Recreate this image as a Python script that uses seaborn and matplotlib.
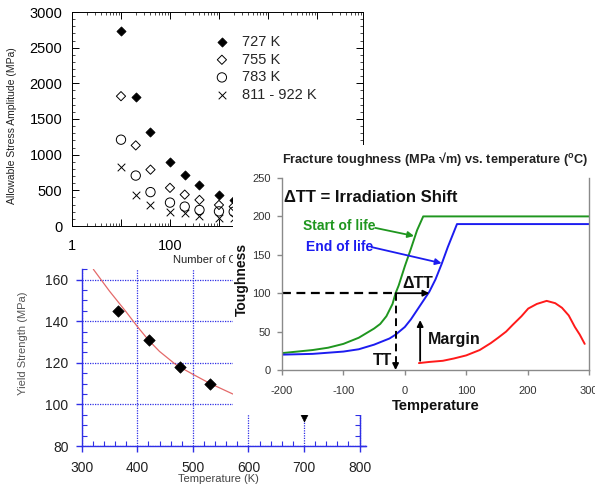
import numpy as np
import matplotlib
matplotlib.use("Agg")
import matplotlib.pyplot as plt
import seaborn as sns
from matplotlib.patches import Rectangle
from matplotlib.ticker import MultipleLocator, LogLocator, NullFormatter

sns.set_theme(style="white")
plt.rcParams["font.family"] = ["Liberation Sans", "DejaVu Sans"]
plt.rcParams["mathtext.fontset"] = "custom"
plt.rcParams["mathtext.rm"] = "Liberation Sans"
plt.rcParams["mathtext.bf"] = "Liberation Sans:bold"

# ---------------- data: chart 1 (allowable stress amplitude) ----------------
cycles = [10, 20, 40, 100, 200, 400, 1000, 2000]
amp_727 = [2740, 1810, 1320, 896, 717, 577, 440, 366]
amp_755 = [1820, 1130, 790, 535, 440, 366, 295, 272]
amp_783 = [1210, 707, 475, 328, 272, 225, 205, 200]
amp_811 = [834, 436, 295, 201, 178, 141, 110, 110]
series_labels = ["727 K", "755 K", "783 K", "811 - 922 K"]
amp_ticks = [0, 500, 1000, 1500, 2000, 2500, 3000]
cyc_ticks = [1, 10, 100, 1000, 10000, 100000]
cyc_tick_labels = ["1", "", "100", "", "10000", ""]

# ---------------- data: chart 2 (fracture toughness) ----------------
start_T = [-200, -175, -150, -125, -100, -75, -50, -40, -30, -20, -15, -10, 0, 10, 20, 30, 300]
start_K = [22, 24, 26, 29, 34, 42, 54, 60, 70, 86, 100, 110, 135, 158, 182, 200, 200]
end_T = [-200, -150, -100, -75, -50, -25, -15, 0, 10, 20, 30, 40, 50, 60, 70, 80, 85, 300]
end_K = [20, 21, 24, 27, 33, 41, 46, 56, 66, 78, 90, 102, 118, 138, 160, 180, 190, 190]
margin_T = [23, 40, 62, 80, 100, 122, 140, 152, 165, 176, 190, 201, 215, 231, 245, 256, 267, 277, 285, 293]
margin_K = [9, 10.5, 12, 15, 19, 26, 35, 42, 50, 59, 70, 80, 86, 90, 87, 81, 71, 56, 46, 34]
ref_toughness = 100
tt_T = -15
shifted_T = 40
margin_arrow_T = 25
margin_arrow_K = [12, 65]
tough_xticks = [-200, -100, 0, 100, 200, 300]
tough_yticks = [0, 50, 100, 150, 200, 250]

# ---------------- data: chart 3 (yield strength) ----------------
ys_T = [365, 421, 476, 531]
ys_MPa = [145, 131, 118, 110]
fit_T = [321, 350, 380, 400, 420, 440, 470, 500, 530, 572]
fit_MPa = [165, 154.5, 144.5, 137.5, 131, 125.5, 119, 114.5, 110.2, 105]
extra_T = [700]
extra_MPa = [94]
ys_xticks = [300, 400, 500, 600, 700, 800]
ys_yticks = [80, 100, 120, 140, 160]

W, H = 595, 486
fig = plt.figure(figsize=(5.95, 4.86), dpi=100)
fig.patch.set_facecolor("white")


def box(l, t, r, b):
    return [l / W, 1 - b / H, (r - l) / W, (b - t) / H]


# ======================= chart 1 =======================
ax1 = fig.add_axes(box(72, 12, 363, 226), zorder=1)
ax1.set_facecolor("none")
sns.scatterplot(x=cycles, y=amp_727, marker="D", s=22, color="black",
                edgecolor="black", linewidth=0.5, ax=ax1, label=series_labels[0])
sns.scatterplot(x=cycles, y=amp_755, marker="D", s=22, facecolor="none",
                edgecolor="black", linewidth=0.7, ax=ax1, label=series_labels[1])
sns.scatterplot(x=cycles, y=amp_783, marker="o", s=45, facecolor="none",
                edgecolor="black", linewidth=0.7, ax=ax1, label=series_labels[2])
sns.scatterplot(x=cycles, y=amp_811, marker="x", s=30, color="black",
                linewidth=0.7, ax=ax1, label=series_labels[3])
ax1.set_xscale("log")
ax1.set_xlim(1, 10 ** 5.94)
ax1.set_ylim(0, 3000)
ax1.set_yticks(amp_ticks)
ax1.set_yticklabels([str(t) for t in amp_ticks])
ax1.yaxis.set_minor_locator(MultipleLocator(100))
ax1.set_xticks(cyc_ticks)
ax1.set_xticklabels(cyc_tick_labels)
ax1.xaxis.set_minor_locator(LogLocator(base=10, subs=np.arange(2, 10) * 1.0, numticks=30))
ax1.xaxis.set_minor_formatter(NullFormatter())
ax1.tick_params(which="both", direction="in", top=True, right=True, bottom=True,
                left=True, colors="black", labelsize=10.5)
ax1.tick_params(which="major", length=5, width=0.7)
ax1.tick_params(which="minor", length=2.5, width=0.5)
ax1.tick_params(axis="x", pad=9)
ax1.tick_params(axis="y", pad=7)
for s in ax1.spines.values():
    s.set_visible(True)
    s.set_color("black")
    s.set_linewidth(0.7)
ax1.set_ylabel("Allowable Stress Amplitude (MPa)", fontsize=7.5, color="#222222")
ax1.yaxis.set_label_coords(-0.19, 0.47)
ax1.set_xlabel("Number of Cycles", fontsize=8, color="#222222")
ax1.xaxis.set_label_coords(0.5, -0.135)
leg = ax1.legend(loc="upper left", bbox_to_anchor=(0.47, 0.92), frameon=False,
                 fontsize=10.5, handletextpad=0.9, labelspacing=0.25,
                 handlelength=1.0, borderaxespad=0)
ax1.grid(False)

# ======================= chart 3 =======================
ax3 = fig.add_axes(box(81.7, 269.3, 365.7, 446), zorder=2)
ax3.set_facecolor("none")
blue = "#2f2fe6"
sns.lineplot(x=fit_T, y=fit_MPa, color="#e46a6a", lw=0.9, ax=ax3, estimator=None)
sns.scatterplot(x=ys_T, y=ys_MPa, marker="D", s=34, color="black",
                edgecolor="black", ax=ax3, zorder=5)
sns.scatterplot(x=extra_T, y=extra_MPa, marker="v", s=40, color="black",
                edgecolor="black", ax=ax3, zorder=5)
ax3.set_xlim(300, 811)
ax3.set_ylim(80, 165)
ax3.set_xticks(ys_xticks)
ax3.set_yticks(ys_yticks)
ax3.set_xticklabels([str(t) for t in ys_xticks])
ax3.set_yticklabels([str(t) for t in ys_yticks])
ax3.xaxis.set_minor_locator(MultipleLocator(20))
ax3.yaxis.set_minor_locator(MultipleLocator(5))
ax3.grid(True, which="major", color=blue, linestyle=(0, (1, 1)), linewidth=0.9)
ax3.spines["top"].set_visible(False)
ax3.spines["right"].set_visible(True)
ax3.spines["right"].set_position(("data", 800))
for k in ["left", "bottom", "right"]:
    ax3.spines[k].set_color(blue)
    ax3.spines[k].set_linewidth(1.0)
ax3.tick_params(which="both", colors=blue, labelcolor="#222222", labelsize=10,
                left=True, bottom=True, right=True, top=False, labelright=False)
ax3.tick_params(which="major", direction="out", length=4, width=1.0)
ax3.tick_params(which="minor", direction="in", length=3.5, width=0.8)
ax3.tick_params(axis="x", pad=6.5)
ax3.tick_params(axis="y", pad=5.5)
ax3.set_ylabel("Yield Strength (MPa)", fontsize=8, color="#555555")
ax3.yaxis.set_label_coords(-0.19, 0.58)
ax3.set_xlabel("Temperature (K)", fontsize=8, color="#444444")
ax3.xaxis.set_label_coords(0.483, -0.158)

# ======================= white backdrop of chart 2 =======================
fig.add_artist(Rectangle((233 / W, 1 - 415 / H), (595 - 233) / W, (415 - 145) / H,
                         transform=fig.transFigure, facecolor="white",
                         edgecolor="none", zorder=3))

# ======================= chart 2 =======================
ax2 = fig.add_axes(box(282, 178, 589, 370), zorder=4)
ax2.set_facecolor("white")
green = "#1f961f"
bl = "#1c1cf0"
sns.lineplot(x=start_T, y=start_K, color=green, lw=1.4, ax=ax2, estimator=None, sort=False)
sns.lineplot(x=end_T, y=end_K, color=bl, lw=1.4, ax=ax2, estimator=None, sort=False)
sns.lineplot(x=margin_T, y=margin_K, color="#ff1a1a", lw=1.4, ax=ax2, estimator=None, sort=False)
ax2.set_xlim(-200, 300)
ax2.set_ylim(0, 250)
ax2.set_xticks(tough_xticks)
ax2.set_yticks(tough_yticks)
ax2.set_xticklabels([str(t) for t in tough_xticks])
ax2.set_yticklabels([str(t) for t in tough_yticks])
ax2.grid(False)
ax2.spines["top"].set_visible(False)
for k in ["left", "bottom", "right"]:
    ax2.spines[k].set_visible(True)
    ax2.spines[k].set_color("#8a8a8a")
    ax2.spines[k].set_linewidth(1.0)
ax2.tick_params(which="major", direction="out", length=3.5, width=1.0, colors="#8a8a8a",
                labelcolor="#333333", labelsize=8, left=True, bottom=True,
                right=False, top=False)
ax2.tick_params(axis="x", pad=8)
ax2.tick_params(axis="y", pad=4.5)
ax2.set_ylabel("Toughness", fontsize=10, fontweight="bold", color="#111111")
ax2.yaxis.set_label_coords(-0.108, 0.474)
ax2.set_xlabel("Temperature", fontsize=10.5, fontweight="bold", color="#111111")
ax2.xaxis.set_label_coords(0.5, -0.151)
ax2.text(0.5, 1.099, r"Fracture toughness (MPa √m) vs. temperature ($^{\mathbf{o}}$C)",
         transform=ax2.transAxes, ha="center", va="center", fontsize=9.2,
         fontweight="bold", color="#222222")
ax2.text(-197, 225, "ΔTT = Irradiation Shift", fontsize=12, fontweight="bold",
         color="#111111", va="center", ha="left")
ax2.text(-166, 187.5, "Start of life", fontsize=10, fontweight="bold", color=green,
         va="center", ha="left")
ax2.text(-161, 160, "End of life", fontsize=10, fontweight="bold", color=bl,
         va="center", ha="left")
arrow_kw = dict(arrowstyle="-|>", lw=1.3, mutation_scale=9, shrinkA=0, shrinkB=0)
ax2.annotate("", xy=(15, 174.5), xytext=(-48, 185),
             arrowprops=dict(color=green, **arrow_kw))
ax2.annotate("", xy=(60, 139), xytext=(-54, 160),
             arrowprops=dict(color=bl, **arrow_kw))
# Delta TT construction
ax2.plot([-200, tt_T], [ref_toughness, ref_toughness], color="black", lw=1.6,
         ls=(0, (4, 2.5)))
ax2.annotate("", xy=(shifted_T, ref_toughness), xytext=(tt_T, ref_toughness),
             arrowprops=dict(color="black", **arrow_kw))
ax2.plot([tt_T, tt_T], [ref_toughness, 6], color="black", lw=1.4, ls=(0, (4, 2.5)))
ax2.annotate("", xy=(tt_T, 0), xytext=(tt_T, 7),
             arrowprops=dict(color="black", **arrow_kw), annotation_clip=False)
ax2.annotate("", xy=(margin_arrow_T, margin_arrow_K[1]), xytext=(margin_arrow_T, margin_arrow_K[0]),
             arrowprops=dict(color="black", **arrow_kw))
ax2.text(21, 112, "ΔTT", fontsize=11.5, fontweight="bold", color="#111111",
         ha="center", va="center")
ax2.text(37, 40, "Margin", fontsize=11.5, fontweight="bold", color="#111111",
         ha="left", va="center")
ax2.text(-21, 13, "TT", fontsize=11.5, fontweight="bold", color="#111111",
         ha="right", va="center")

fig.savefig("out.png", dpi=100, facecolor="white")
